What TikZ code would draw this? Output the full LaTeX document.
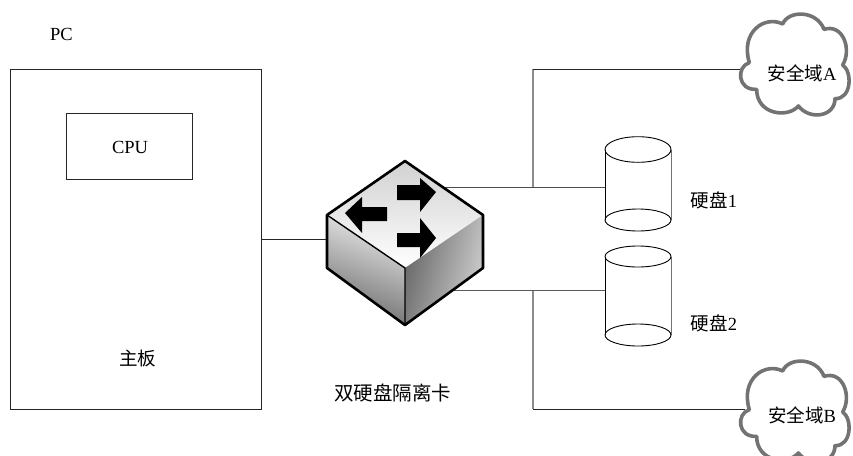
\documentclass[tikz,border=0pt]{standalone}
\usepackage{fontspec}
\setmainfont{Liberation Serif}
\newfontfamily\cjk{Noto Sans CJK SC}
\tikzset{
  box/.style={draw=black!85,line width=1pt,fill=white,inner sep=0pt,outer sep=0pt,rectangle},
  label/.style={inner sep=0pt,outer sep=0pt,font=\fontsize{18.5}{20}\selectfont,text=black},
  wire/.style={draw=black!85,line width=1pt},
  heavywire/.style={draw=black!70,line width=1.7pt},
  lightwire/.style={draw=black!45,line width=1.2pt},
  diskline/.style={draw=black,line width=0.9pt},
  diskfade/.style={draw=black!55,line width=1pt},
  cloudline/.style={draw=black!55,fill=white,line width=3.6pt,line join=round},
  swedge/.style={draw=black,line width=2.6pt,line join=round},
  flow/.style={fill=black,draw=none}
}
\newcommand{\cloudshape}[2]{%
 \begin{scope}[shift={(#1,#2)},x=0.3333pt,y=-0.3333pt]
  \path[cloudline] (148,188)
   .. controls (108,200) and (112,272) .. (170,268)
   .. controls (170,345) and (265,355) .. (295,318)
   .. controls (330,362) and (405,350) .. (405,296)
   .. controls (455,298) and (458,215) .. (428,195)
   .. controls (456,150) and (430,70) .. (372,88)
   .. controls (350,30) and (265,30) .. (248,72)
   .. controls (195,45) and (120,95) .. (148,188) -- cycle;
 \end{scope}}
\newcommand{\diskshape}[5]{%
 % x centre, top axis, bottom axis, top radius, bottom radius
 \draw[diskline] (#1-33,#2) -- (#1-33,#3);
 \draw[diskfade] (#1+33,#2) -- (#1+33,#3);
 \draw[diskline] (#1,#2) ellipse [x radius=33,y radius=#4];
 \draw[diskline] (#1,#3) ellipse [x radius=33,y radius=#5];}
\begin{document}
\begin{tikzpicture}[x=1pt,y=-1pt]
\useasboundingbox (0,0) rectangle (853,455);
\fill[white] (0,0) rectangle (853,455);
% board and cpu
\node[box,minimum width=251pt,minimum height=340pt] (board) at (135.5,239) {};
\node[box,minimum width=126pt,minimum height=66pt] (cpu) at (129,146) {};
\node[label] (pc) at (61.5,34) {PC};
\node[label] (cputext) at (130,147) {CPU};
\node[label] (mb) at (137.5,358) {\cjk 主板};
\node[label,font=\fontsize{19.5}{21}\selectfont] (cardtext) at (392.5,393) {\cjk 双硬盘隔离卡};
% ports
\coordinate (swL) at (330,239);
\coordinate (swU) at (445,187.5);
\coordinate (swD) at (450,290);
\coordinate (hubU) at (533,187.5);
\coordinate (hubD) at (533,290);
\coordinate (topA) at (533,69);
\coordinate (topB) at (533,409);
\coordinate (dsk1) at (605,187.5);
\coordinate (dsk2) at (605,290);
\coordinate (cldA) at (745,69);
\coordinate (cldB) at (745,409);
% connectors
\draw[wire] (board.east |- swL) -- (swL);
\draw[lightwire] (hubU) -- (topA);
\draw[lightwire] (hubD) -- (topB);
\draw[wire] (topA) -- (cldA);
\draw[wire] (topB) -- (cldB);
\draw[heavywire] (swU) -- (dsk1);
\draw[wire,draw=black!65] (swD) -- (dsk2);
% disks
\diskshape{638}{149.5}{220}{12.8}{11}
\diskshape{638}{256.5}{335}{10.5}{11}
\node[label] (d1) at (714,200) {{\cjk 硬盘}1};
\node[label] (d2) at (714,323) {{\cjk 硬盘}2};
% clouds
\cloudshape{700}{0}
\cloudshape{700}{347}
\node[label] (ca) at (802,73) {{\cjk 安全域}A};
\node[label] (cb) at (802,415.5) {{\cjk 安全域}B};
% switch
\shade[top color=black!18,bottom color=white] (405,161) -- (483,215) -- (405,268) -- (327,215) -- cycle;
\shade[top color=black!8,bottom color=black!58,shading angle=-20] (327,215) -- (405,268) -- (405,325) -- (327,268) -- cycle;
\shade[left color=black!60,right color=black!18,shading angle=75] (405,268) -- (483,215) -- (483,268) -- (405,325) -- cycle;
\draw[swedge] (405,161) -- (483,215) -- (483,268) -- (405,325) -- (327,268) -- (327,215) -- cycle;
\draw[draw=black,line width=1.4pt] (327,215) -- (405,268) -- (405,325);
\fill[flow] (397,185) -- (420,185) -- (420,178) -- (436,192) -- (420,212) -- (420,200) -- (397,200) -- cycle;
\fill[flow] (397,233) -- (420,233) -- (420,218) -- (436,238) -- (420,258) -- (420,247) -- (397,247) -- cycle;
\fill[flow] (387,207) -- (362,207) -- (362,197) -- (345,213) -- (362,233) -- (362,221) -- (387,221) -- cycle;
\end{tikzpicture}
\end{document}
